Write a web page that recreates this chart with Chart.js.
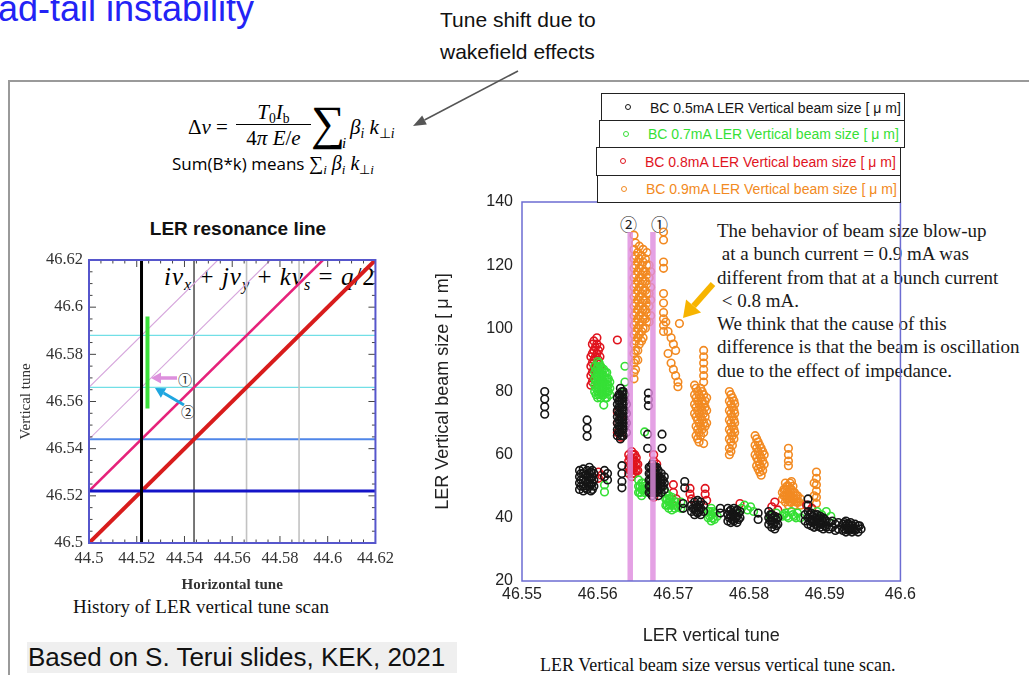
<!DOCTYPE html>
<html>
<head>
<meta charset="utf-8">
<script src="https://cdn.jsdelivr.net/npm/chart.js@4.4.1/dist/chart.umd.min.js"></script>
<style>
  body { margin: 0; width: 1029px; height: 675px; overflow: hidden; background: #fff; position: relative; font-family: 'Liberation Sans', Arial, sans-serif; }
  .t { position: absolute; white-space: nowrap; line-height: 24px; }
  .serif { font-family: 'Liberation Serif', 'Times New Roman', serif; }
  .cjk { font-family: 'Noto Sans CJK JP', sans-serif; }
  sub { font-size: 65%; vertical-align: -0.3em; line-height: 0; }
  canvas { position: absolute; }
  .lg { position: absolute; box-sizing: border-box; border: 1.3px solid #222; background: #fff; }
  .lg i { position: absolute; width: 4px; height: 4px; border: 1.4px solid; border-radius: 50%; top: 50%; margin-top: -3.4px; }
  .lg span { position: absolute; top: 0; bottom: 0; display: flex; align-items: center; font-size: 14px; white-space: nowrap; }
  svg { position: absolute; left: 0; top: 0; }
</style>
</head>
<body>

<div class="t" style="left:-2px;top:-9px;font-size:36px;line-height:36px;color:#2323f5;">ad-tail instability</div>
<div class="t" style="left:440px;top:4px;font-size:21px;line-height:32px;color:#111;">Tune shift due to<br>wakefield effects</div>

<!-- tune shift formula -->
<div class="t serif" style="left:188px;top:115px;font-size:21px;">Δ<i>ν</i> =</div>
<div class="t serif" style="left:236px;top:100px;width:75px;text-align:center;font-size:21px;"><i>T</i><sub>0</sub><i>I</i><sub>b</sub></div>
<div style="position:absolute;left:236px;top:124px;width:75px;height:1.3px;background:#000;"></div>
<div class="t serif" style="left:236px;top:126px;width:75px;text-align:center;font-size:21px;">4<i>π E</i>/<i>e</i></div>
<div class="t serif" style="left:311px;top:98px;font-size:48px;line-height:50px;">∑</div>
<div class="t serif" style="left:342px;top:131px;font-size:15px;"><i>i</i></div>
<div class="t serif" style="left:350px;top:115px;font-size:21px;"><i>β</i><sub><i>i</i></sub> <i>k</i><sub>⊥<i>i</i></sub></div>
<div class="t" style="left:172px;top:151px;font-size:17px;font-family:'Open Sans',sans-serif;">Sum(B*k) means <span class="serif" style="font-size:20px;">∑<sub><i>i</i></sub> <i>β</i><sub><i>i</i></sub> <i>k</i><sub>⊥<i>i</i></sub></span></div>

<!-- left chart texts -->
<div class="t" style="left:88px;top:217px;width:300px;text-align:center;font-size:19px;font-weight:bold;color:#111;">LER resonance line</div>
<div class="t serif" style="left:164px;top:263px;font-size:25px;line-height:28px;letter-spacing:1px;"><i>iν</i><sub><i>x</i></sub> + <i>jν</i><sub><i>y</i></sub> + <i>kν</i><sub><i>s</i></sub> = <i>q</i>/2</div>
<div class="t cjk" style="left:178px;top:367px;font-size:14px;color:#222;">①</div>
<div class="t cjk" style="left:181px;top:399px;font-size:14px;color:#222;">②</div>
<div class="t serif" style="left:73px;top:595px;font-size:19px;color:#111;">History of LER vertical tune scan</div>
<div class="t" style="left:27px;top:642px;width:430px;height:31px;line-height:31px;background:#efefef;font-size:26px;color:#111;padding-left:1px;box-sizing:border-box;">Based on S. Terui slides, KEK, 2021</div>

<!-- right chart texts -->
<div class="t cjk" style="left:620px;top:212px;font-size:17px;color:#222;">②</div>
<div class="t cjk" style="left:651px;top:212px;font-size:17px;color:#222;">①</div>
<div class="t serif" style="left:717px;top:219px;font-size:19px;line-height:23.3px;color:#1a1a1a;">The behavior of beam size blow-up<br>&nbsp;at a bunch current = 0.9 mA was<br>different from that at a bunch current<br>&nbsp;&lt; 0.8 mA.<br>We think that the cause of this<br>difference is that the beam is oscillation<br>due to the effect of impedance.</div>
<div class="t serif" style="left:540px;top:653px;font-size:18px;color:#111;">LER Vertical beam size versus vertical tune scan.</div>

<canvas id="left" width="400" height="360" style="left:0;top:240px;"></canvas>
<canvas id="right" width="490" height="480" style="left:430px;top:182px;"></canvas>
<div id="legend"></div>
<svg id="ov" width="1029" height="675"></svg>

<script>
// ---- left chart: resonance lines in the tune plane ----
const xTicksLeft = [44.5, 44.52, 44.54, 44.56, 44.58, 44.6, 44.62];
const yTicksLeft = [46.5, 46.52, 46.54, 46.56, 46.58, 46.6, 46.62];
const verticalTunes = [44.522, 44.544, 44.566, 44.588];
const horizontalTunes = [46.522, 46.544, 46.566, 46.588];
const diagRed = [[44.5, 46.5], [44.62, 46.62]];
const diagMagenta = [[44.5, 46.522], [44.598, 46.62]];
const diagLilacA = [[44.5, 46.544], [44.576, 46.62]];
const diagLilacB = [[44.5, 46.566], [44.554, 46.62]];
const scanRange = [[44.5245, 46.557], [44.5245, 46.596]];

// ---- right chart: vertical beam size vs vertical tune ----
const xTicksRight = [46.55, 46.56, 46.57, 46.58, 46.59, 46.6];
const yTicksRight = [20, 40, 60, 80, 100, 120, 140];
const bandTunes = [46.5643, 46.5673];
const bandRange = [20, 130.5];
const seriesLabels = [
  'BC 0.5mA LER Vertical beam size [ μ m]',
  'BC 0.7mA LER Vertical beam size [ μ m]',
  'BC 0.8mA LER Vertical beam size [ μ m]',
  'BC 0.9mA LER Vertical beam size [ μ m]'
];
// each entry: [tune, [beam sizes measured at that tune]]
const bc05 = [
  [46.5530, [80, 77.6, 75.2, 72.8]], [46.5586, [71, 68.4, 65.8]],
  [46.5576, [49, 51, 53, 55]], [46.5581, [48.5, 50, 52, 54, 55.5]], [46.5586, [49, 51, 53, 55]],
  [46.5591, [48.5, 50.5, 52.5, 54.5]], [46.5595, [50, 52, 54]], [46.5609, [55, 53]], [46.5613, [54, 52]],
  [46.5578, [50, 52, 54]], [46.5584, [49.5, 51.5, 53.5]], [46.5589, [50, 52, 54, 56]], [46.5593, [49, 51, 53, 55]],
  [46.5626, [66, 68, 70, 72, 74, 76, 78]], [46.5630, [65, 67, 69, 71, 73, 75, 77, 79, 81]],
  [46.5634, [66, 68, 70, 72, 74, 76, 78, 80]], [46.5638, [67, 70, 73, 76]], [46.5632, [56.5, 54, 51.5, 49.5]],
  [46.5628, [67, 69, 71, 73, 75, 77, 79]], [46.5632, [66, 68, 70, 72, 74, 76, 78, 80]], [46.5636, [69, 71, 74, 77, 79]],
  [46.5667, [79.5, 77.5, 75.5]], [46.5666, [66.5, 62]], [46.5685, [66.5, 62]],
  [46.5668, [48, 50, 52, 54, 56]], [46.5672, [47, 49, 51, 53, 55, 57]], [46.5676, [48, 50, 52, 54, 56]],
  [46.5680, [47, 49, 51, 53, 55]], [46.5684, [48, 50, 52, 54]], [46.5688, [49, 51, 53]],
  [46.5670, [48, 50, 52, 54, 56]], [46.5674, [48, 50, 52, 54, 56]], [46.5678, [48, 50, 52, 54, 56]],
  [46.5682, [49, 51, 53]], [46.5686, [50, 52]],
  [46.5715, [51.5, 49.5]], [46.5713, [44.5, 43]],
  [46.5724, [42, 44]], [46.5728, [41, 43, 45]], [46.5732, [41.5, 43.5, 45.5]], [46.5736, [41, 43, 45]], [46.5740, [42, 44]],
  [46.5730, [42, 44]], [46.5734, [42, 44]], [46.5726, [43]],
  [46.5762, [43, 41.5]],
  [46.5772, [39, 41, 43]], [46.5776, [38.5, 40.5, 42.5]], [46.5780, [39, 41, 43]], [46.5784, [38.5, 40.5, 42.5]], [46.5788, [40, 42]],
  [46.5774, [40, 42]], [46.5778, [39.5, 41.5]], [46.5782, [40, 42]], [46.5786, [39.5, 41.5]],
  [46.5812, [41.5, 39.5]],
  [46.5826, [38, 40, 42]], [46.5830, [37, 39, 41]], [46.5834, [36.5, 38.5, 40.5]], [46.5838, [38, 40]],
  [46.5828, [39, 41]], [46.5832, [38, 40]], [46.5836, [37.5, 39.5]],
  [46.5878, [46, 44]], [46.5874, [39, 41]], [46.5878, [38, 40, 42]], [46.5882, [37.5, 39.5, 41.5]],
  [46.5886, [37, 39, 41]], [46.5890, [37.5, 39.5, 41]], [46.5894, [37, 39, 40.5]], [46.5898, [36.5, 38.5, 40]],
  [46.5880, [39, 41]], [46.5884, [38.5, 40.5]], [46.5888, [38, 40]], [46.5892, [38.5, 40]], [46.5896, [38, 39.5]], [46.5900, [37.5, 39.5]],
  [46.5902, [37, 39]], [46.5906, [36.5, 38.5]], [46.5910, [37, 39]], [46.5914, [36, 38]], [46.5918, [36.5, 38.5]],
  [46.5924, [36, 38]], [46.5928, [35.5, 37.5, 39]], [46.5932, [36, 38]], [46.5936, [35.5, 37.5]],
  [46.5940, [36, 38]], [46.5944, [35.5, 37.5]], [46.5948, [36.5]],
  [46.5926, [36.5, 38.5]], [46.5930, [36.5, 38]], [46.5934, [36.5, 38.5]], [46.5938, [36.5]], [46.5942, [36.5]], [46.5946, [37.5]]
];
const bc07 = [
  [46.5596, [80, 82, 84, 86, 88]], [46.5600, [78, 80, 82, 84, 86, 88, 89.5]], [46.5604, [78, 80, 82, 84, 86, 88]],
  [46.5608, [79, 81, 83, 85, 87, 75.7]], [46.5612, [78, 80, 82, 84, 86]], [46.5616, [79, 81, 83]],
  [46.5598, [79, 81, 83, 85, 87]], [46.5602, [79, 81, 83, 85, 87, 89]], [46.5606, [79, 81, 83, 85, 87]],
  [46.5610, [78, 80, 82, 84, 86]], [46.5614, [80, 82, 84]],
  [46.5636, [88, 83]], [46.5634, [79.5]], [46.5609, [50.4, 48.2]], [46.5662, [67.2]],
  [46.5654, [48, 50, 52]], [46.5658, [47, 49, 51]], [46.5662, [48, 50]], [46.5656, [48, 50]], [46.5660, [49, 51]],
  [46.5690, [44, 46, 48]], [46.5694, [43, 45, 47]], [46.5698, [42.5, 44.5, 46.5]], [46.5702, [43, 45]],
  [46.5706, [43.5]], [46.5710, [43, 45]], [46.5692, [44, 46]], [46.5696, [44, 46]], [46.5700, [44]],
  [46.5746, [40, 42]], [46.5750, [39, 41, 43]], [46.5754, [39.5, 41.5]], [46.5758, [40.5]], [46.5748, [40.5, 42]], [46.5752, [40, 42]],
  [46.5790, [43]], [46.5794, [44]], [46.5798, [42.5]], [46.5802, [43.5]], [46.5806, [42]],
  [46.5828, [40.5]], [46.5836, [41.5]], [46.5844, [40.5]], [46.5848, [41.5]], [46.5852, [40]],
  [46.5856, [42]], [46.5860, [40.5]], [46.5864, [41.5]], [46.5868, [40]],
  [46.5846, [41]], [46.5850, [40.5]], [46.5858, [41]], [46.5862, [40]],
  [46.5890, [42]], [46.5896, [41]], [46.5902, [42]], [46.5908, [40.5]]
];
const bc08 = [
  [46.5591, [82, 85, 88, 91]], [46.5595, [84, 87, 90, 93, 96]], [46.5599, [86, 89, 92, 95, 97]], [46.5603, [88, 91, 94]],
  [46.5593, [83, 86, 89, 92, 95]], [46.5597, [85, 88, 91, 94]], [46.5601, [87, 90, 93]],
  [46.5626, [96.3, 73.5, 70, 67]], [46.5631, [65.5, 72]],
  [46.5641, [54, 56, 58, 60]], [46.5645, [53, 55, 57, 59, 61]], [46.5649, [54, 56, 58, 60]], [46.5653, [55, 57]],
  [46.5643, [55, 57, 59]], [46.5647, [54, 56, 58, 60]], [46.5651, [55, 57, 59]],
  [46.5601, [54.5, 52.5]], [46.5605, [53.5]],
  [46.5674, [60, 58, 56, 54, 52, 50, 48, 46.5]], [46.5678, [57, 53]],
  [46.5700, [50.5, 48]], [46.5704, [46, 45]],
  [46.5722, [49.3, 47.5]], [46.5724, [46]], [46.5742, [49.3, 47.5]], [46.5744, [45.5]],
  [46.5788, [44.5]], [46.5830, [43.5]], [46.5834, [45]], [46.5838, [42.5]], [46.5876, [44]], [46.5883, [43]]
];
const bc09 = [
  [46.5648, [129.5, 125, 122, 119, 116, 113, 110, 107, 104, 101, 98, 95, 92, 89, 86, 84]],
  [46.5653, [124, 121, 118, 115, 112, 109, 106, 103, 100, 97, 93, 90]],
  [46.5658, [123, 120, 117, 114, 111, 108, 105, 102, 99, 96]],
  [46.5663, [122, 118, 115, 112, 109, 106, 103, 100]],
  [46.5668, [120, 116, 111, 107, 102]],
  [46.5650, [127, 123, 120, 117, 114, 111, 108, 105, 102, 99, 96, 93, 90, 87]],
  [46.5655, [126, 122, 119, 116, 113, 110, 107, 104, 101, 98, 95]],
  [46.5660, [125, 121, 118, 115, 112, 109, 106, 103, 100, 97]],
  [46.5665, [124, 120, 117, 114, 111, 108, 105, 102]],
  [46.5670, [118, 113, 109, 104]],
  [46.5687, [130.5, 128, 121, 119, 111, 108, 105, 103, 101, 99]],
  [46.5690, [102]], [46.5693, [99, 92]], [46.5697, [97, 89]], [46.5700, [95, 87]], [46.5703, [85, 93]],
  [46.5706, [83, 81.5]], [46.5708, [101.5]],
  [46.5740, [93, 91, 89, 87, 85, 83]],
  [46.5728, [82, 79, 76, 73]], [46.5732, [80, 77, 74, 71, 68, 65]], [46.5736, [81, 78, 75, 72, 69, 66]],
  [46.5740, [79, 76, 73, 70, 67, 63.5]], [46.5744, [78, 74, 70]],
  [46.5730, [81, 78, 75, 72, 69, 66]], [46.5734, [79, 76, 73, 70, 67, 64]], [46.5738, [80, 77, 74, 71, 68]], [46.5742, [77, 75, 72, 69]],
  [46.5774, [80, 77, 74, 71, 68, 65, 62, 60]], [46.5778, [78, 75, 72, 69, 66, 63]], [46.5781, [76, 73, 70, 67]],
  [46.5776, [79, 76, 73, 70, 67, 64, 61]], [46.5780, [77, 74, 71, 68, 65]],
  [46.5808, [66, 63, 60]], [46.5812, [64, 61, 58, 55.5]], [46.5816, [62, 59, 56, 53.5]], [46.5820, [60, 57]],
  [46.5810, [65, 62, 59, 56.5]], [46.5814, [63, 60, 57, 54.5]], [46.5818, [61, 58, 55]],
  [46.5852, [62, 60, 58, 56.5]],
  [46.5844, [46, 48]], [46.5848, [45, 47, 49, 51]], [46.5852, [44, 46, 48, 50]], [46.5856, [45, 47, 49, 51.5]],
  [46.5860, [44, 46, 48]], [46.5864, [45, 47]], [46.5868, [44, 46]],
  [46.5846, [47, 49]], [46.5850, [46, 48, 50]], [46.5854, [45, 47, 49, 51]], [46.5858, [46, 48, 50]], [46.5862, [45, 47]], [46.5866, [45]],
  [46.5889, [54.5, 52.5, 50.5, 48.5, 46.5, 44.5]], [46.5886, [51, 47]]
];

const seriesColors = ['#151515', '#36e036', '#e0141e', '#f28a22'];
const SERIF = 'Liberation Serif';
const SANS = "'Liberation Sans', Arial, sans-serif";

Chart.defaults.font.family = SANS;

function pts(pairs) {
  return pairs.map(([x, y]) => ({ x, y }));
}
function flatten(cols) {
  return cols.flatMap(([x, ys]) => ys.map(y => ({ x, y })));
}
function lineSet(pairs, color, width) {
  return { data: pts(pairs), showLine: true, borderColor: color, borderWidth: width, pointRadius: 0, fill: false };
}

/** frame round the plot area, with optional inward ticks */
const framePlugin = {
  id: 'frame',
  afterDatasetsDraw(chart, args, opts) {
    const { ctx, chartArea: a, scales: { x, y } } = chart;
    ctx.save();
    if (opts.inTicks) {
      ctx.strokeStyle = '#444';
      ctx.lineWidth = 1;
      const mark = (ticks, scale, horiz) => {
        for (let i = 0; i < ticks.length; i++) {
          const marks = [[ticks[i], 7]];
          if (i < ticks.length - 1) {
            const step = (ticks[i + 1] - ticks[i]) / 4;
            for (let k = 1; k < 4; k++) marks.push([ticks[i] + k * step, 3.5]);
          }
          marks.forEach(([v, len]) => {
            const p = scale.getPixelForValue(v);
            ctx.beginPath();
            if (horiz) {
              ctx.moveTo(p, a.bottom); ctx.lineTo(p, a.bottom - len);
              ctx.moveTo(p, a.top); ctx.lineTo(p, a.top + len);
            } else {
              ctx.moveTo(a.left, p); ctx.lineTo(a.left + len, p);
              ctx.moveTo(a.right, p); ctx.lineTo(a.right - len, p);
            }
            ctx.stroke();
          });
        }
      };
      mark(opts.xTicks, x, true);
      mark(opts.yTicks, y, false);
    }
    ctx.strokeStyle = opts.color;
    ctx.lineWidth = opts.width;
    ctx.strokeRect(a.left, a.top, a.right - a.left, a.bottom - a.top);
    ctx.restore();
  }
};

// ---------- left chart ----------
const vStyles = [['#000000', 3], ['#555555', 1.6], ['#c2c2c2', 1.6], ['#c2c2c2', 1.6]];
const hStyles = [['#1414c8', 3], ['#4f86e8', 2], ['#72dfe6', 1.3], ['#72dfe6', 1.3]];
const vLine = i => lineSet([[verticalTunes[i], 46.5], [verticalTunes[i], 46.62]], vStyles[i][0], vStyles[i][1]);
const hLine = i => lineSet([[44.5, horizontalTunes[i]], [44.62, horizontalTunes[i]]], hStyles[i][0], hStyles[i][1]);

const leftSets = [
  hLine(2), hLine(3), hLine(1),
  vLine(2), vLine(3), vLine(1),
  lineSet(diagLilacA, '#d6a6dc', 1.1),
  lineSet(diagLilacB, '#d6a6dc', 1.1),
  lineSet(diagMagenta, '#e6227a', 2.5),
  lineSet(diagRed, '#d81c1c', 4),
  hLine(0),
  vLine(0),
  lineSet(scanRange, '#3ae03a', 4)
];
leftSets.forEach((d, i) => { d.order = -i; });

new Chart(document.getElementById('left'), {
  type: 'scatter',
  data: { datasets: leftSets },
  options: {
    responsive: false,
    animation: false,
    events: [],
    layout: { padding: { top: 20, right: 15, left: 0, bottom: 0 } },
    plugins: {
      legend: { display: false },
      tooltip: { enabled: false },
      frame: { color: '#5656cc', width: 2, inTicks: true, xTicks: xTicksLeft, yTicks: yTicksLeft }
    },
    scales: {
      x: {
        type: 'linear', min: 44.5, max: 44.62,
        afterBuildTicks: s => { s.ticks = xTicksLeft.map(v => ({ value: v })); },
        afterFit: s => { s.height = 57; },
        grid: { display: false, drawTicks: false },
        border: { display: false },
        ticks: { font: { family: SERIF, size: 16.5 }, color: '#333', padding: 6, maxRotation: 0, autoSkip: false, callback: v => String(v) },
        title: { display: true, text: 'Horizontal tune', font: { family: SERIF, size: 15, weight: 'bold' }, color: '#333', padding: { top: 0, bottom: 6 } }
      },
      y: {
        type: 'linear', min: 46.5, max: 46.62,
        afterBuildTicks: s => { s.ticks = yTicksLeft.map(v => ({ value: v })); },
        afterFit: s => { s.width = 89; },
        grid: { display: false, drawTicks: false },
        border: { display: false },
        ticks: { font: { family: SERIF, size: 16.5 }, color: '#333', padding: 6, autoSkip: false, callback: v => String(v) },
        title: { display: true, text: 'Vertical tune', font: { family: SERIF, size: 15 }, color: '#333', padding: { top: 17, bottom: 0 } }
      }
    }
  },
  plugins: [framePlugin]
});

// ---------- right chart ----------
const scatterSet = (cols, color) => ({
  data: flatten(cols), showLine: false, pointStyle: 'circle', pointRadius: 3.8,
  pointBorderWidth: 1.6, pointBorderColor: color, pointBackgroundColor: 'rgba(0,0,0,0)', borderColor: color
});
const rightSets = [
  scatterSet(bc09, seriesColors[3]),
  scatterSet(bc08, seriesColors[2]),
  scatterSet(bc07, seriesColors[1]),
  scatterSet(bc05, seriesColors[0]),
  ...bandTunes.map(t => lineSet([[t, bandRange[0]], [t, bandRange[1]]], 'rgba(222,140,222,0.82)', 5.5))
];
rightSets.forEach((d, i) => { d.order = -i; });

new Chart(document.getElementById('right'), {
  type: 'scatter',
  data: { datasets: rightSets },
  options: {
    responsive: false,
    animation: false,
    events: [],
    layout: { padding: { top: 20, right: 19, left: 0, bottom: 0 } },
    plugins: {
      legend: { display: false },
      tooltip: { enabled: false },
      frame: { color: '#6c6cd2', width: 1.5, inTicks: false }
    },
    scales: {
      x: {
        type: 'linear', min: 46.55, max: 46.6,
        afterBuildTicks: s => { s.ticks = xTicksRight.map(v => ({ value: v })); },
        afterFit: s => { s.height = 81; },
        grid: { display: false, drawTicks: false },
        border: { display: false },
        ticks: { font: { size: 16 }, color: '#222', padding: 4, maxRotation: 0, autoSkip: false, callback: v => String(v) },
        title: { display: true, text: 'LER vertical tune', font: { size: 18 }, color: '#222', padding: { top: 0, bottom: 15 } }
      },
      y: {
        type: 'linear', min: 20, max: 140,
        afterBuildTicks: s => { s.ticks = yTicksRight.map(v => ({ value: v })); },
        afterFit: s => { s.width = 92; },
        grid: { display: false, drawTicks: false },
        border: { display: false },
        ticks: { font: { size: 16 }, color: '#222', padding: 9, autoSkip: false, callback: v => String(v) },
        title: { display: true, text: 'LER Vertical beam size [ μ m]', font: { size: 18 }, color: '#222', padding: { top: 2, bottom: 0 } }
      }
    }
  },
  plugins: [framePlugin]
});

// ---------- stacked legend boxes ----------
const legendBoxes = [[601, 93, 304, 29], [599, 120, 306, 28], [596, 147, 305, 29], [597, 175, 304, 28]];
const legend = document.getElementById('legend');
seriesLabels.forEach((label, i) => {
  const [l, t, w, h] = legendBoxes[i];
  const c = seriesColors[i];
  const box = document.createElement('div');
  box.className = 'lg';
  Object.assign(box.style, { left: l + 'px', top: t + 'px', width: w + 'px', height: h + 'px', color: c });
  box.innerHTML = `<i style="left:23px;border-color:${c}"></i><span style="left:48px">${label}</span>`;
  legend.appendChild(box);
});

// ---------- overlay: slide frame and arrows ----------
const svg = document.getElementById('ov');
const NS = 'http://www.w3.org/2000/svg';
function el(tag, attrs) {
  const e = document.createElementNS(NS, tag);
  for (const k in attrs) e.setAttribute(k, attrs[k]);
  svg.appendChild(e);
}
function arrow(x1, y1, x2, y2, color, w, len, hw) {
  const a = Math.atan2(y2 - y1, x2 - x1);
  const bx = x2 - len * Math.cos(a), by = y2 - len * Math.sin(a);
  el('line', { x1, y1, x2: bx, y2: by, stroke: color, 'stroke-width': w });
  const px = -Math.sin(a) * hw, py = Math.cos(a) * hw;
  el('polygon', { points: `${x2},${y2} ${bx + px},${by + py} ${bx - px},${by - py}`, fill: color });
}
el('line', { x1: 8, y1: 81, x2: 1029, y2: 81, stroke: '#9a9a9a', 'stroke-width': 2 });
el('line', { x1: 9, y1: 81, x2: 9, y2: 675, stroke: '#9a9a9a', 'stroke-width': 2 });
arrow(518, 71, 413, 126, '#555', 1.6, 13, 5);
arrow(177, 378, 151, 378, '#dd8fdd', 3.5, 10, 5.5);
arrow(184, 405, 155, 388, '#1fa6e0', 3, 10, 5.5);
arrow(713, 284, 683, 318, '#f7b400', 6, 16, 10);
</script>
</body>
</html>
